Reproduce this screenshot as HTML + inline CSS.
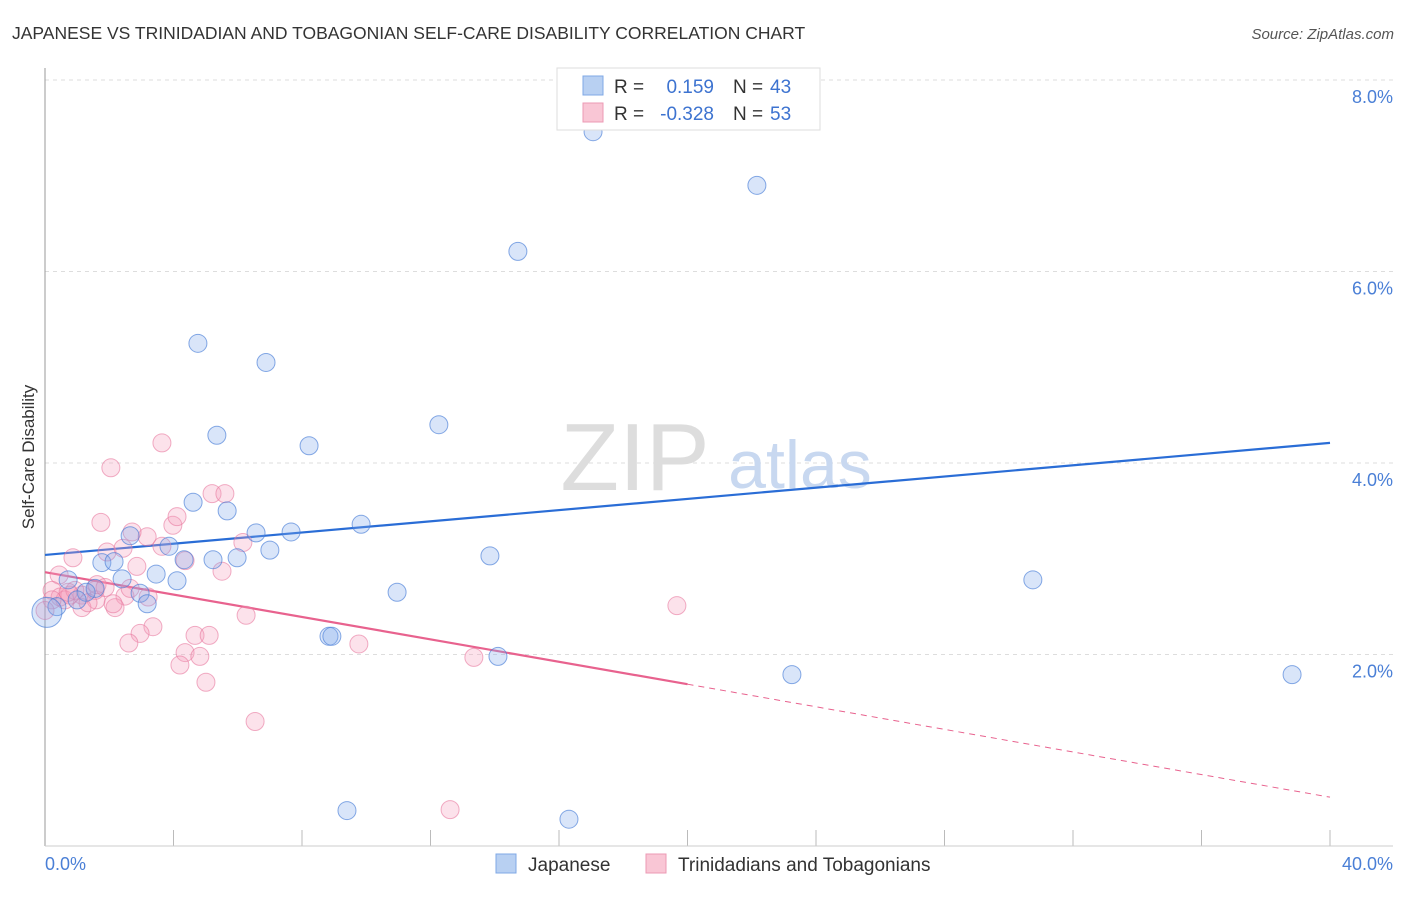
<!DOCTYPE html>
<html><head><meta charset="utf-8"><style>
body{margin:0;background:#fff;font-family:"Liberation Sans",sans-serif}
svg text{font-family:"Liberation Sans",sans-serif}
</style></head><body>
<svg width="1406" height="892">
<text x="12" y="39" font-size="17.5" fill="#333">JAPANESE VS TRINIDADIAN AND TOBAGONIAN SELF-CARE DISABILITY CORRELATION CHART</text>
<text x="1394" y="39" font-size="15" fill="#555" font-style="italic" text-anchor="end">Source: ZipAtlas.com</text>
<g id="grid"></g>
<text x="635" y="490" font-size="96" fill="#ddd" font-family="Liberation Serif" text-anchor="middle">ZIP</text>
<text x="800" y="488" font-size="68" fill="#c8d8f0" text-anchor="middle">atlas</text>
<line x1="45" y1="68" x2="45" y2="846" stroke="#999"/>
<line x1="45" y1="846" x2="1393" y2="846" stroke="#ccc"/>
<text transform="translate(34,457) rotate(-90)" font-size="17" fill="#333" text-anchor="middle">Self-Care Disability</text>
<text x="45" y="870" font-size="18" fill="#4a7fd6">0.0%</text>
<text x="1393" y="870" font-size="18" fill="#4a7fd6" text-anchor="end">40.0%</text>
<g id="lines"></g>
<g id="pts"></g>
<g>
<rect x="557" y="68" width="263" height="62" fill="#fff" stroke="#ddd"/>
<rect x="583" y="76" width="20" height="19" fill="#b8d0f2" stroke="#7fa8e6"/>
<rect x="583" y="103" width="20" height="19" fill="#f9c6d5" stroke="#ec9ab4"/>
<text x="614" y="93" font-size="19" fill="#333">R =</text>
<text x="714" y="93" font-size="19" fill="#3d73d0" text-anchor="end">0.159</text>
<text x="733" y="93" font-size="19" fill="#333">N =</text>
<text x="770" y="93" font-size="19" fill="#3d73d0">43</text>
<text x="614" y="120" font-size="19" fill="#333">R =</text>
<text x="714" y="120" font-size="19" fill="#3d73d0" text-anchor="end">-0.328</text>
<text x="733" y="120" font-size="19" fill="#333">N =</text>
<text x="770" y="120" font-size="19" fill="#3d73d0">53</text>
</g>
<g>
<rect x="496" y="854" width="20" height="19" fill="#b8d0f2" stroke="#7fa8e6"/>
<text x="528" y="871" font-size="19" fill="#333">Japanese</text></g>
<g>
<rect x="646" y="854" width="20" height="19" fill="#f9c6d5" stroke="#ec9ab4"/>
<text x="678" y="871" font-size="19" fill="#333">Trinidadians and Tobagonians</text></g>
</svg>
<script>
const yTicks=[2,4,6,8];
const yTickLabels=["2.0%","4.0%","6.0%","8.0%"];
const xTicks=[0,4,8,12,16,20,24,28,32,36,40];
const japX=[17.06,20.73,22.16,14.72,4.76,6.88,5.35,12.26,8.22,4.61,5.67,9.84,6.57,7.66,2.65,3.86,7.00,5.23,5.98,13.85,1.77,2.15,4.33,3.46,4.11,2.40,0.72,1.56,2.96,1.28,3.18,10.96,30.75,0.37,0.06,8.84,8.93,14.10,23.25,38.82,9.40,16.31,1.00];
const japY=[7.46,7.82,6.90,6.21,5.25,5.05,4.29,4.40,4.18,3.59,3.50,3.36,3.27,3.28,3.24,3.13,3.09,2.99,3.01,3.03,2.96,2.97,2.99,2.84,2.77,2.79,2.78,2.69,2.64,2.65,2.53,2.65,2.78,2.50,2.44,2.19,2.19,1.98,1.79,1.79,0.37,0.28,2.57];
const triX=[3.64,2.05,1.74,5.20,5.60,3.98,4.11,3.18,2.71,1.93,2.43,0.87,2.86,6.16,4.36,5.51,0.44,3.64,0.22,0.47,0.78,1.15,1.59,2.49,1.56,2.18,1.15,3.21,0.62,1.62,1.87,2.65,2.12,3.36,2.96,2.61,4.67,5.11,4.36,4.82,4.20,5.01,6.54,9.77,6.26,13.35,19.67,12.61,0.22,0.0,0.93,1.34,0.72];
const triY=[4.21,3.95,3.38,3.68,3.68,3.35,3.44,3.23,3.28,3.07,3.11,3.01,2.92,3.17,2.98,2.87,2.83,3.13,2.67,2.60,2.62,2.62,2.57,2.61,2.67,2.49,2.49,2.60,2.57,2.73,2.70,2.69,2.53,2.29,2.22,2.12,2.20,2.20,2.02,1.98,1.89,1.71,1.30,2.11,2.41,1.97,2.51,0.38,2.57,2.46,2.67,2.54,2.65];
const japTrend=[3.04,4.21];
const triTrend=[2.86,1.69,0.51];
const sx=v=>45+v*32.125, sy=v=>846-v*95.75;
const NS="http://www.w3.org/2000/svg";
function mk(tag,attrs,parent){const e=document.createElementNS(NS,tag);for(const k in attrs)e.setAttribute(k,attrs[k]);parent.appendChild(e);return e;}
const grid=document.getElementById('grid');
yTicks.forEach((t,i)=>{
 const l=mk('line',{x1:45,x2:1393,y1:sy(t),y2:sy(t),stroke:'#ddd','stroke-dasharray':'4,4'},grid);
 
 
 const tx=mk('text',{x:1393,y:sy(t)+23,'font-size':18,fill:'#4a7fd6','text-anchor':'end'},grid);
 tx.textContent=yTickLabels[i];
 
 
});
xTicks.forEach(t=>{
 const l=mk('line',{x1:sx(t),x2:sx(t),y1:830,y2:846,stroke:'#bbb'},grid);
 
 
});
const lines=document.getElementById('lines');
let b=mk('line',{x1:sx(0),y1:sy(japTrend[0]),x2:sx(40),y2:sy(japTrend[1]),stroke:'#2a6dd6','stroke-width':2.2},lines);


let p=mk('line',{x1:sx(0),y1:sy(triTrend[0]),x2:sx(20),y2:sy(triTrend[1]),stroke:'#e8628e','stroke-width':2.2},lines);


let pd=mk('line',{x1:sx(20),y1:sy(triTrend[1]),x2:sx(40),y2:sy(triTrend[2]),stroke:'#e8628e','stroke-width':1,'stroke-dasharray':'6,5'},lines);


const pts=document.getElementById('pts');
triX.forEach((x,i)=>{
 const c=mk('circle',{cx:sx(x),cy:sy(triY[i]),r:9,fill:'rgba(244,160,188,0.3)',stroke:'rgba(232,120,158,0.6)','stroke-width':1},pts);
 
 
});
japX.forEach((x,i)=>{
 const c=mk('circle',{cx:sx(x),cy:sy(japY[i]),r:(i===34?15:9),fill:'rgba(130,170,235,0.3)',stroke:'rgba(70,125,215,0.65)','stroke-width':1},pts);
 
 
});
</script>
</body></html>
